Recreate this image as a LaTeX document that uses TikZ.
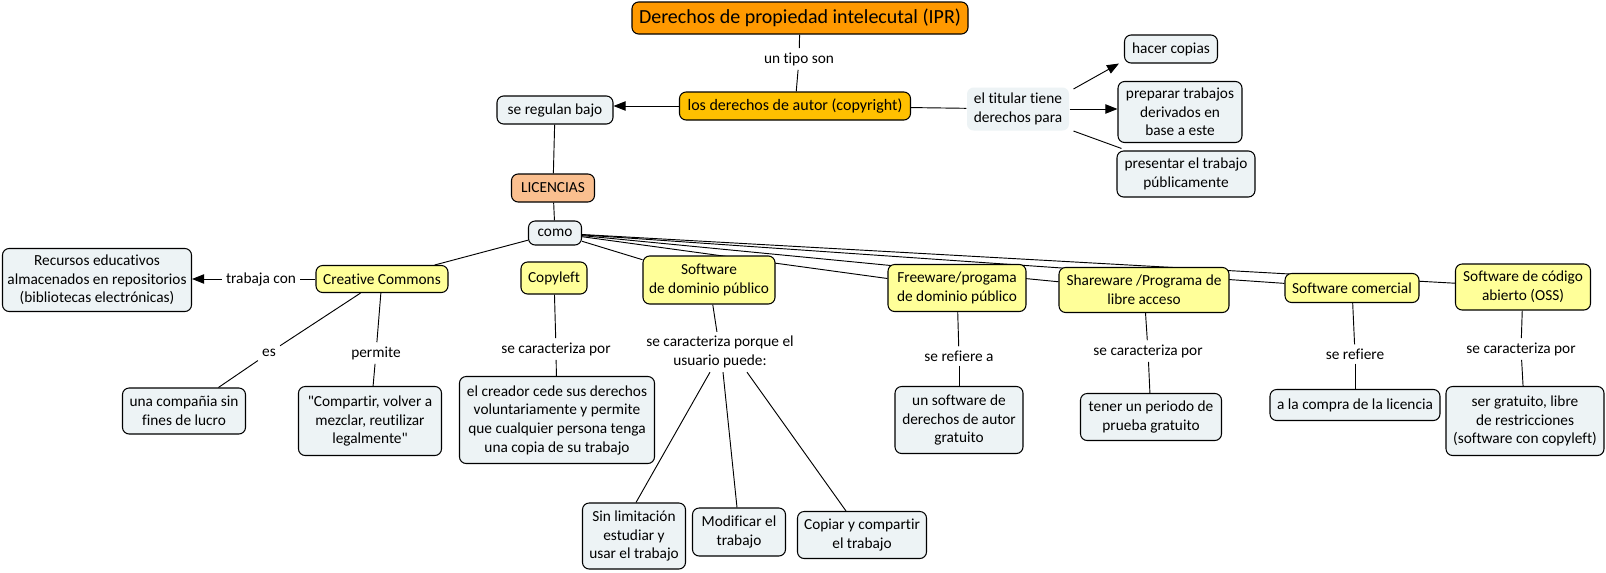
\documentclass[tikz,border=0pt]{standalone}
\usepackage{fontspec}
\setmainfont{Carlito}[Ligatures={TeX,NoCommon}]
\usetikzlibrary{arrows.meta,backgrounds,calc}
\definecolor{cTitle}{RGB}{255,153,0}
\definecolor{cGold}{RGB}{255,192,0}
\definecolor{cPeach}{RGB}{250,191,143}
\definecolor{cCat}{RGB}{255,255,153}
\definecolor{cLeaf}{RGB}{237,243,245}
\newcommand\strq{\XeTeXglyph\XeTeXcharglyph34\relax}
\begin{document}
\begin{tikzpicture}[x=0.75pt,y=-0.75pt,
  base/.style={draw=black, line width=0.8pt, rounded corners=5pt, align=center, inner sep=2pt, font=\fontsize{11.5}{14}\selectfont, text=black},
  sz/.style 2 args={minimum width=#1*0.75pt, minimum height=#2*0.75pt},
  leaf/.style={base, fill=cLeaf},
  cat/.style={base, fill=cCat},
  lab/.style={align=center, inner sep=3pt, font=\fontsize{11.5}{14}\selectfont},
  conn/.style={draw=black, line width=0.7pt},
  arr/.style={conn, -{Triangle[length=9pt,width=7pt]}},
]
\useasboundingbox (0,0) rectangle (1606,572);

% top
\node[base, fill=cTitle, sz={336}{32}, font=\fontsize{15}{18}\selectfont] (title) at (800,18) {Derechos de propiedad intelecutal (IPR)};
\node[lab] (tipo) at (799,59) {un tipo son};
\node[base, fill=cGold, sz={231}{28}, font=\fontsize{12}{14}\selectfont] (copy) at (795,106) {los derechos de autor (copyright)};
\node[leaf, sz={116}{28}] (regula) at (555,110) {se regulan bajo};
\node[base, draw=none, fill=cLeaf, sz={102}{43}] (titular) at (1018,109) {el titular tiene\\derechos para};
\node[leaf, sz={93}{28}] (hacer) at (1171,49) {hacer copias};
\node[leaf, sz={124}{61}] (prep) at (1180,112) {preparar trabajos\\derivados en\\base a este};
\node[leaf, sz={138}{46}] (pres) at (1186,174) {presentar el trabajo\\públicamente};
\node[base, fill=cPeach, sz={83}{28}] (lic) at (553,188) {LICENCIAS};
\node[leaf, sz={53}{24}] (como) at (555,233) {como};

% categories
\node[leaf, sz={189}{63}] (recursos) at (97,280) {Recursos educativos\\almacenados en repositorios\\(bibliotecas electrónicas)};
\node[lab] (trabaja) at (261,279) {trabaja con};
\node[cat, sz={132}{27}] (cc) at (382,279) {Creative Commons};
\node[cat, sz={66}{32}] (copyleft) at (554,278) {Copyleft};
\node[cat, sz={132}{48}] (sdp) at (709,280) {Software\\de dominio público};
\node[cat, sz={138}{47}] (free) at (957,288) {Freeware/progama\\de dominio público};
\node[cat, sz={170}{45}] (share) at (1144,290) {Shareware /Programa de\\libre acceso};
\node[cat, sz={134}{29}] (comer) at (1352,288) {Software comercial};
\node[cat, sz={135}{46}] (oss) at (1523,287) {Software de código\\abierto (OSS)};

% linking phrases
\node[lab] (les) at (269,353) {es};
\node[lab] (lperm) at (376,353) {permite};
\node[lab] (lcopy) at (556,349) {se caracteriza por};
\node[lab] (lsdp) at (720,352) {se caracteriza porque el\\usuario puede:};
\node[lab] (lfree) at (959,356) {se refiere a};
\node[lab] (lshare) at (1148,351) {se caracteriza por};
\node[lab] (lcomer) at (1355,354) {se refiere};
\node[lab] (loss) at (1521,349) {se caracteriza por};

% leaves
\node[leaf, sz={123}{46}] (lucro) at (184,411) {una compañia sin\\fines de lucro};
\node[leaf, sz={143}{69}] (compartir) at (370,421) {\strq Compartir, volver a\\mezclar, reutilizar\\legalmente\strq};
\node[leaf, sz={195}{87}] (creador) at (557,420) {el creador cede sus derechos\\voluntariamente y permite\\que cualquier persona tenga\\una copia de su trabajo};
\node[leaf, sz={128}{67}] (usoft) at (959,420) {un software de\\derechos de autor\\gratuito};
\node[leaf, sz={141}{47}] (tener) at (1151,417) {tener un periodo de\\prueba gratuito};
\node[leaf, sz={170}{31}] (compra) at (1355,405) {a la compra de la licencia};
\node[leaf, sz={158}{69}] (ser) at (1525,421) {ser gratuito, libre\\de restricciones\\(software con copyleft)};
\node[leaf, sz={103}{66}] (sinlim) at (634,536) {Sin limitación\\estudiar y\\usar el trabajo};
\node[leaf, sz={93}{48}] (modif) at (739,532) {Modificar el\\trabajo};
\node[leaf, sz={129}{47}] (copiar) at (862,535) {Copiar y compartir\\el trabajo};

\begin{scope}[on background layer]
\fill[white] (0,0) rectangle (1606,572);
\draw[conn] (title) -- (tipo);
\draw[conn] (tipo) -- (copy);
\draw[conn] (regula) -- (lic);
\draw[conn] (lic) -- (como);
\draw[conn] (copy) -- (titular);
\draw[conn] ($(titular.south east)+(4,0)$) -- ($(pres.north west)+(5,-2)$);
\draw[conn] (trabaja) -- (cc);
\draw[conn] (como) -- (cc);
\draw[conn] (como) -- (sdp);
\draw[conn] (como) -- (free);
\draw[conn] (como) -- (share);
\draw[conn] (como) -- (comer);
\draw[conn] (como) -- (oss);
\draw[conn] (cc) -- (les);
\draw[conn] (les) -- (lucro);
\draw[conn] (cc) -- (lperm);
\draw[conn] (lperm) -- (compartir);
\draw[conn] (copyleft) -- (lcopy);
\draw[conn] (lcopy) -- (creador);
\draw[conn] (sdp) -- (lsdp);
\draw[conn] ($(lsdp.south)+(-10,0)$) -- ($(sinlim.north)+(2,0)$);
\draw[conn] ($(lsdp.south)+(3,0)$) -- ($(modif.north)+(-2,0)$);
\draw[conn] ($(lsdp.south)+(27,0)$) -- ($(copiar.north)+(-16,0)$);
\draw[conn] (free) -- (lfree);
\draw[conn] (lfree) -- (usoft);
\draw[conn] (share) -- (lshare);
\draw[conn] (lshare) -- (tener);
\draw[conn] (comer) -- (lcomer);
\draw[conn] (lcomer) -- (compra);
\draw[conn] (oss) -- (loss);
\draw[conn] (loss) -- (ser);
\end{scope}

\draw[arr] (copy.west) -- (copy.west -| regula.east);
\draw[arr] ($(titular.north east)+(4,2)$) -- ($(hacer.south west)+(-5,0)$);
\draw[arr] (titular.east) -- (titular.east -| prep.west);
\draw[arr] (trabaja.west) -- (trabaja.west -| recursos.east);
\end{tikzpicture}
\end{document}
